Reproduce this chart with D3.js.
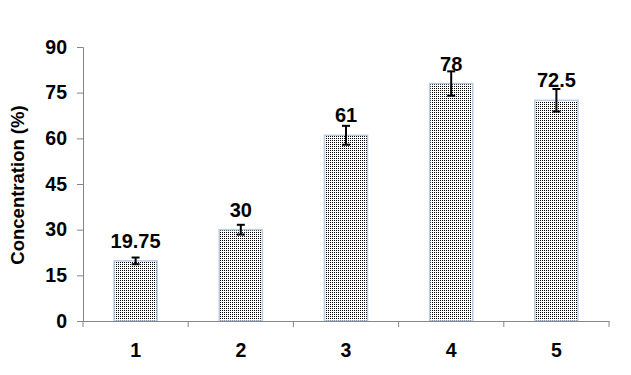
<!DOCTYPE html>
<html>
<head>
<meta charset="utf-8">
<script src="https://cdn.jsdelivr.net/npm/d3@7"></script>
<style>
  html, body { margin: 0; padding: 0; background: #fff; }
  svg { display: block; font-family: "Liberation Sans", Arial, sans-serif; }
</style>
</head>
<body>
<svg id="chart" width="631" height="375"></svg>
<script>
// 数据
const categories = ['1', '2', '3', '4', '5'];
const values = [19.75, 30, 61, 78, 72.5];
const errors = [1.1, 1.6, 3.1, 4, 3.7];
const valueLabels = ['19.75', '30', '61', '78', '72.5'];
const yTicks = [0, 15, 30, 45, 60, 75, 90];

const svg = d3.select('#chart');
const margin = { left: 83, right: 22, top: 47, bottom: 54 };
const width = 631, height = 375;
const FONT = '"Liberation Sans", Arial, sans-serif';

// 比例尺
const x = d3.scaleBand()
    .domain(categories)
    .range([margin.left, width - margin.right])
    .paddingInner(0.59)
    .paddingOuter(0.295);

const y = d3.scaleLinear()
    .domain([0, 90])
    .range([height - margin.bottom, margin.top]);

// 点状填充
const defs = svg.append('defs');
const pat = defs.append('pattern')
    .attr('id', 'dots')
    .attr('patternUnits', 'userSpaceOnUse')
    .attr('width', 2)
    .attr('height', 2);
pat.append('rect').attr('width', 2).attr('height', 2).attr('fill', '#fff');
pat.append('rect').attr('x', 0).attr('y', 0)
    .attr('width', 1).attr('height', 1).attr('fill', '#000');

// 柱子
svg.append('g')
    .selectAll('rect')
    .data(values)
    .join('rect')
    .attr('x', (d, i) => x(categories[i]))
    .attr('y', d => y(d))
    .attr('width', x.bandwidth())
    .attr('height', d => y(0) - y(d))
    .attr('fill', 'url(#dots)')
    .attr('stroke', '#b9cde5')
    .attr('stroke-width', 1.5);

// 误差线
const eb = svg.append('g')
    .selectAll('g')
    .data(values)
    .join('g')
    .attr('stroke', '#000')
    .attr('stroke-width', 2);
const cx = i => x(categories[i]) + x.bandwidth() / 2;
eb.append('line')
    .attr('x1', (d, i) => cx(i)).attr('x2', (d, i) => cx(i))
    .attr('y1', (d, i) => y(d + errors[i])).attr('y2', (d, i) => y(d - errors[i]));
eb.append('line')
    .attr('x1', (d, i) => cx(i) - 4).attr('x2', (d, i) => cx(i) + 4)
    .attr('y1', (d, i) => y(d + errors[i])).attr('y2', (d, i) => y(d + errors[i]));
eb.append('line')
    .attr('x1', (d, i) => cx(i) - 4).attr('x2', (d, i) => cx(i) + 4)
    .attr('y1', (d, i) => y(d - errors[i])).attr('y2', (d, i) => y(d - errors[i]));

// 数值标签
svg.append('g')
    .selectAll('text')
    .data(values)
    .join('text')
    .attr('x', (d, i) => cx(i))
    .attr('y', d => y(d) - 13)
    .attr('text-anchor', 'middle')
    .attr('font-size', '20px')
    .attr('font-weight', 'bold')
    .attr('font-family', FONT)
    .attr('fill', '#000')
    .text((d, i) => valueLabels[i]);

// Y轴
const yAxis = svg.append('g')
    .attr('transform', `translate(${margin.left},0)`)
    .call(d3.axisLeft(y).tickValues(yTicks).tickSize(6).tickPadding(10));
yAxis.selectAll('text')
    .attr('font-size', '19.5px').attr('font-weight', 'bold').attr('fill', '#000')
    .attr('font-family', FONT);

// X轴
const xAxis = svg.append('g')
    .attr('transform', `translate(0,${y(0)})`)
    .call(d3.axisBottom(x).tickSize(0).tickPadding(22));
xAxis.selectAll('text')
    .attr('font-size', '19.5px').attr('font-weight', 'bold').attr('fill', '#000')
    .attr('font-family', FONT);
// 分类之间的刻度
const step = x.step();
xAxis.selectAll('.sep')
    .data(d3.range(categories.length + 1))
    .join('line')
    .attr('class', 'sep')
    .attr('x1', i => margin.left + i * step).attr('x2', i => margin.left + i * step)
    .attr('y1', 0).attr('y2', 6)
    .attr('stroke', '#868686');

svg.selectAll('.domain').attr('stroke', '#868686');
svg.selectAll('.tick line').attr('stroke', '#868686');

// 轴标题
svg.append('text')
    .attr('transform', `translate(24,${(y(0) + y(90)) / 2 + 1}) rotate(-90)`)
    .attr('text-anchor', 'middle')
    .attr('font-size', '18.5px')
    .attr('font-weight', 'bold')
    .attr('font-family', FONT)
    .text('Concentration (%)');
</script>
</body>
</html>
